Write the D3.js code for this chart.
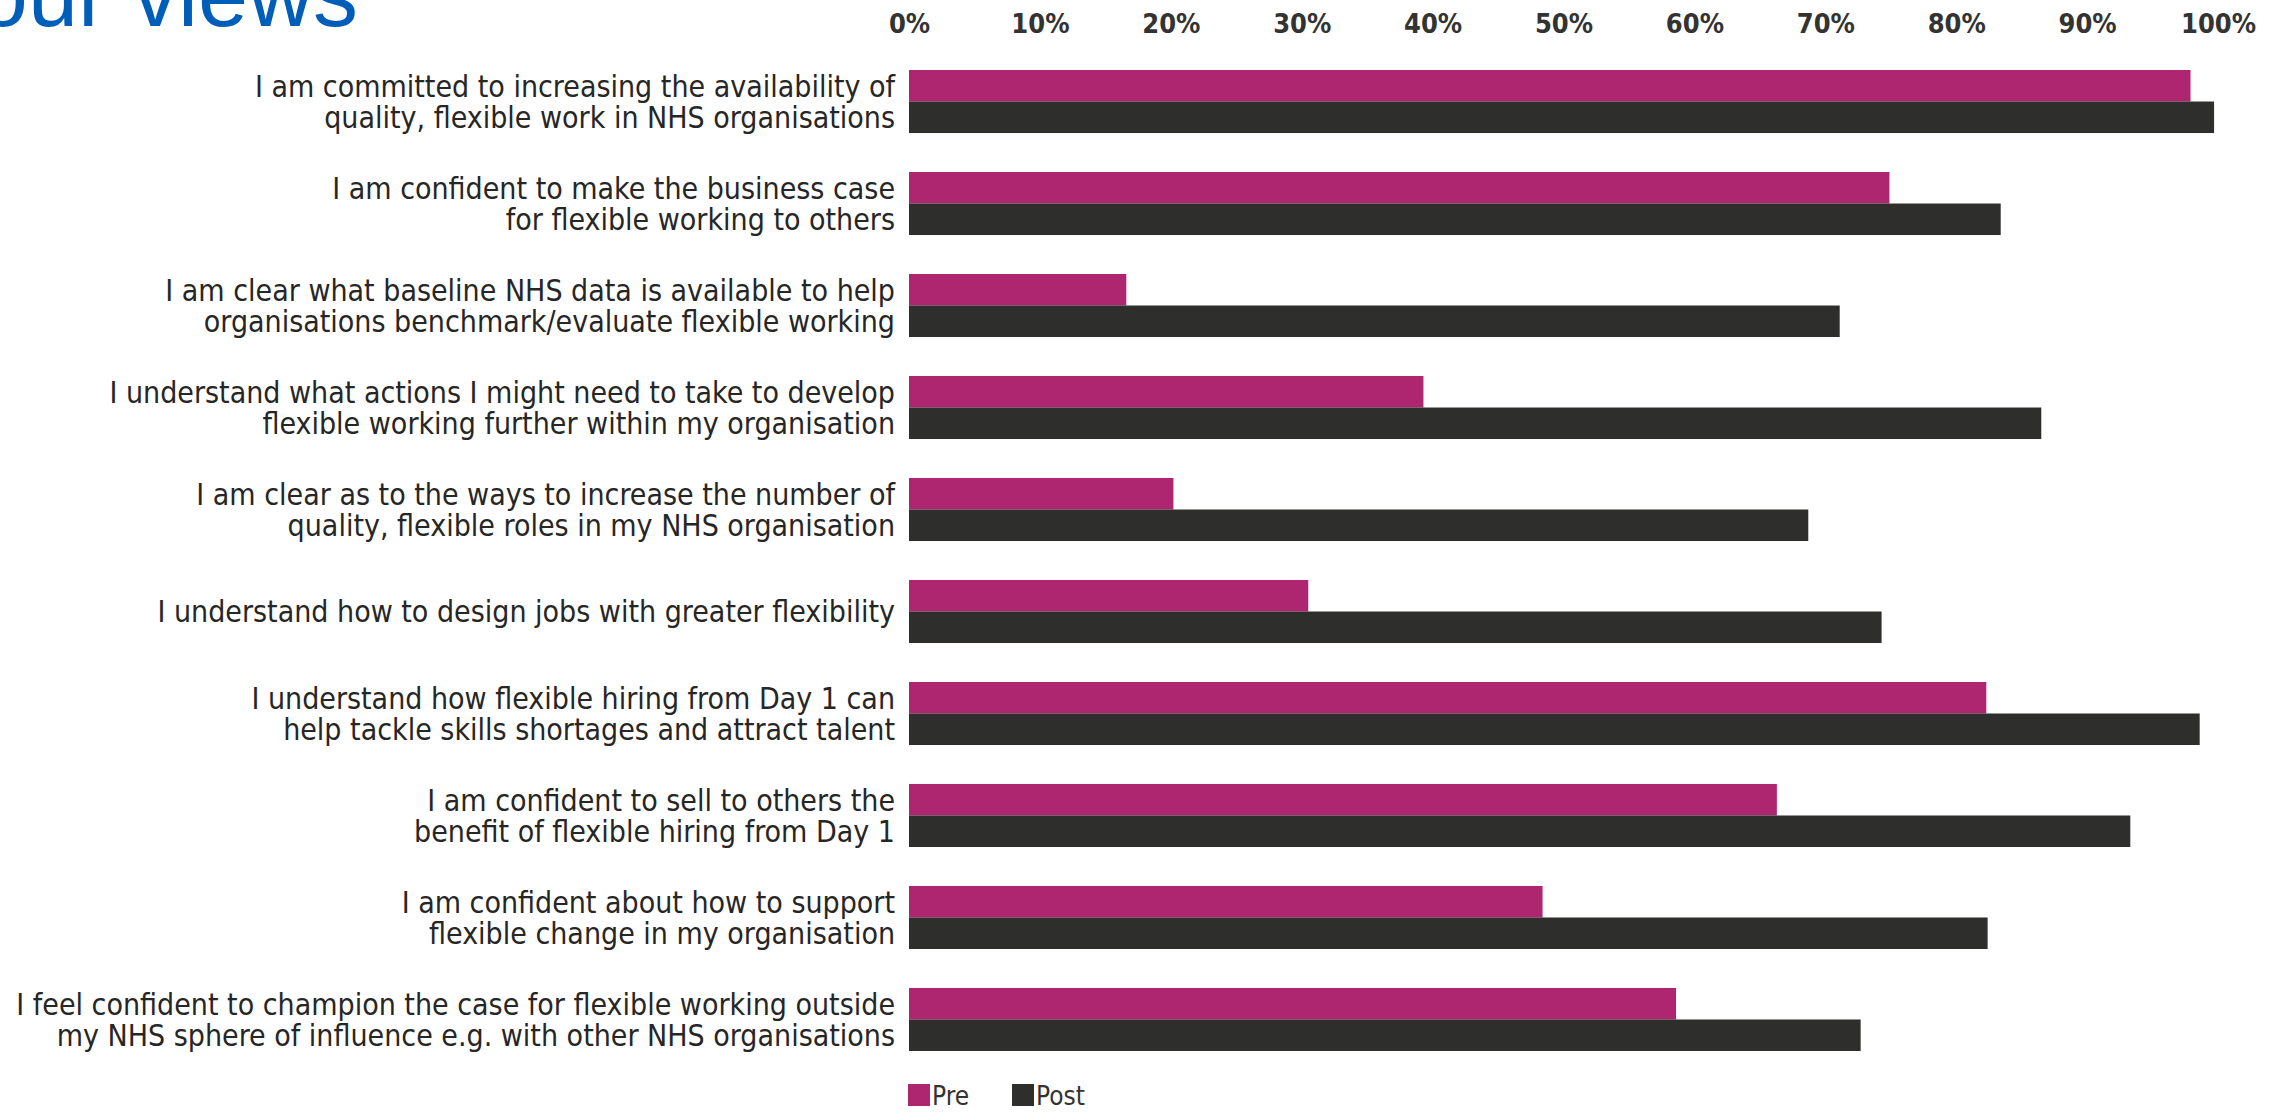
<html>
    <head>
        <script src="https://d3js.org/d3.v7.min.js"></script>
    </head>

    <style>
        body { margin: 0; background: #fff; }
        .label { fill: #262626; font-family: "Liberation Sans Narrow", "DejaVu Sans Condensed", sans-serif; font-size: 30px; }
        .tick-label { fill: #333; font-family: "Liberation Sans Narrow", "DejaVu Sans Condensed", sans-serif; font-size: 27px; font-weight: bold; }
        .legend-text { fill: #333; font-family: "Liberation Sans Narrow", "DejaVu Sans Condensed", sans-serif; font-size: 26px; }
        .title { fill: #005eb8; font-family: "Liberation Sans", Arial, sans-serif; font-size: 90px; }
    </style>
    <body>

        <script>

            // questions (each is split in the lines shown on the chart)
            var categories = [
                ["I am committed to increasing the availability of", "quality, flexible work in NHS organisations"],
                ["I am confident to make the business case", "for flexible working to others"],
                ["I am clear what baseline NHS data is available to help", "organisations benchmark/evaluate flexible working"],
                ["I understand what actions I might need to take to develop", "flexible working further within my organisation"],
                ["I am clear as to the ways to increase the number of", "quality, flexible roles in my NHS organisation"],
                ["I understand how to design jobs with greater flexibility"],
                ["I understand how flexible hiring from Day 1 can", "help tackle skills shortages and attract talent"],
                ["I am confident to sell to others the", "benefit of flexible hiring from Day 1"],
                ["I am confident about how to support", "flexible change in my organisation"],
                ["I feel confident to champion the case for flexible working outside", "my NHS sphere of influence e.g. with other NHS organisations"]
            ];

            var preValues  = [97.9, 74.9, 16.6, 39.3, 20.2, 30.5, 82.3, 66.3, 48.4, 58.6]; // %
            var postValues = [99.7, 83.4, 71.1, 86.5, 68.7, 74.3, 98.6, 93.3, 82.4, 72.7]; // %

            var seriesNames  = ["Pre", "Post"];
            var seriesColors = ["#ae2570", "#2e2e2c"];
            var tickValues   = [0, 10, 20, 30, 40, 50, 60, 70, 80, 90, 100];

            var width = 2287, height = 1113;

            var svg = d3.select("body").append("svg")
                        .attr("width", width)
                        .attr("height", height);

            // title, cut off at the top edge like in the source slide
            svg.append("text")
                .attr("class", "title")
                .attr("x", 358)
                .attr("y", 26)
                .attr("text-anchor", "end")
                .text("our views");

            var x = d3.scaleLinear().domain([0, 100]).range([909, 2218]);

            var y = d3.scaleBand()
                      .domain(d3.range(categories.length))
                      .range([70, 1051])
                      .paddingInner(0.382)
                      .paddingOuter(0);

            var sub = d3.scaleBand()
                        .domain(seriesNames)
                        .range([0, y.bandwidth()]);

            // x axis labels on top (no line, no ticks)
            var xAxis = svg.append("g")
                           .attr("transform", "translate(0,33)")
                           .call(d3.axisTop(x).tickValues(tickValues).tickSize(0).tickFormat(function(d){ return d + "%"; }));
            xAxis.select(".domain").remove();
            xAxis.selectAll("text")
                 .attr("class", "tick-label")
                 .attr("y", 0)
                 .attr("dy", 0)
                 .attr("font-family", null)
                 .attr("font-size", null);

            var rows = categories.map(function(c, i){
                return {i: i, lines: c, values: [preValues[i], postValues[i]]};
            });

            var group = svg.selectAll(".row")
                           .data(rows)
                           .enter().append("g")
                           .attr("class", "row")
                           .attr("transform", function(d){ return "translate(0," + y(d.i) + ")"; });

            group.selectAll("rect")
                 .data(function(d){ return d.values.map(function(v, k){ return {k: k, v: v}; }); })
                 .enter().append("rect")
                 .attr("x", x(0))
                 .attr("y", function(d){ return sub(seriesNames[d.k]); })
                 .attr("width", function(d){ return x(d.v) - x(0); })
                 .attr("height", sub.bandwidth())
                 .attr("fill", function(d){ return seriesColors[d.k]; });

            // question labels, right aligned, one line per bar
            group.each(function(d){
                var g = d3.select(this);
                var n = d.lines.length;
                d.lines.forEach(function(line, j){
                    var cy = n === 1 ? y.bandwidth() / 2 : sub(seriesNames[j]) + sub.bandwidth() / 2;
                    g.append("text")
                     .attr("class", "label")
                     .attr("x", x(0) - 14)
                     .attr("y", cy)
                     .attr("dy", "0.36em")
                     .attr("text-anchor", "end")
                     .text(line);
                });
            });

            // legend
            var legend = svg.append("g").attr("transform", "translate(908,1084)");
            var legendX = [0, 104];
            seriesNames.forEach(function(name, k){
                legend.append("rect")
                      .attr("x", legendX[k])
                      .attr("y", 0)
                      .attr("width", 22)
                      .attr("height", 22)
                      .attr("fill", seriesColors[k]);
                legend.append("text")
                      .attr("class", "legend-text")
                      .attr("x", legendX[k] + 24)
                      .attr("y", 21)
                      .text(name);
            });

        </script>
    </body>
</html>
